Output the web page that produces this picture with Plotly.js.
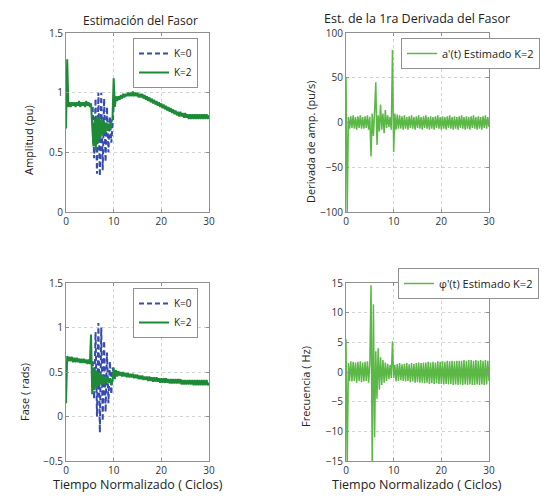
<!DOCTYPE html>
<html>
<head>
<meta charset="utf-8">
<script src="https://cdn.plot.ly/plotly-3.0.1.min.js"></script>
<style>html,body{margin:0;padding:0;background:#fff;}#chart{width:542px;height:499px;}</style>
</head>
<body>
<div id="chart"></div>
<script>
// Sample spacing of the stored series (normalized cycles)
const STEP = 0.25;

// Amplitude, K=2 (x = 0 .. 30, step 0.25)
const ampK2 = [
  0.70, 1.28, 0.88, 0.92, 0.88, 0.92, 0.89, 0.92,
  0.88, 0.92, 0.89, 0.93, 0.88, 0.92, 0.89, 0.92,
  0.88, 0.93, 0.89, 0.92, 0.88, 0.91, 0.72, 0.55,
  0.78, 0.52, 0.80, 0.58, 0.80, 0.62, 0.78, 0.64,
  0.76, 0.66, 0.75, 0.68, 0.74, 0.69, 0.75, 0.78,
  1.12, 0.88, 0.97, 0.93, 0.97, 0.94, 0.98, 0.95,
  0.99, 0.96, 0.99, 0.97, 1.00, 0.97, 1.00, 0.97,
  1.01, 0.97, 1.00, 0.97, 1.00, 0.96, 0.99, 0.96,
  0.99, 0.95, 0.98, 0.94, 0.97, 0.93, 0.96, 0.92,
  0.95, 0.91, 0.94, 0.90, 0.93, 0.89, 0.92, 0.88,
  0.91, 0.87, 0.90, 0.86, 0.89, 0.85, 0.88, 0.84,
  0.87, 0.83, 0.86, 0.82, 0.85, 0.81, 0.84, 0.80,
  0.84, 0.80, 0.83, 0.79, 0.83, 0.79, 0.82, 0.78,
  0.82, 0.78, 0.82, 0.78, 0.82, 0.78, 0.82, 0.78,
  0.82, 0.78, 0.82, 0.78, 0.82, 0.78, 0.82, 0.78,
  0.81
];

// K=0 estimates (visible part, during the transient)
const k0Time = [5.6, 5.9, 6.2, 6.5, 6.8, 7.1, 7.4, 7.7, 8.0, 8.3, 8.6, 8.9, 9.2, 9.5, 9.8, 10.1];
const ampK0  = [0.88, 0.45, 0.95, 0.32, 1.00, 0.30, 1.00, 0.35, 0.95, 0.42, 0.88, 0.50, 0.80, 0.58, 0.75, 0.95];
const phaseK0 = [0.62, 0.20, 0.95, 0.00, 1.05, -0.18, 1.00, -0.05, 0.85, 0.05, 0.72, 0.15, 0.62, 0.25, 0.55, 0.45];

// Phase, K=2
const phaseK2 = [
  0.15, 0.68, 0.62, 0.67, 0.62, 0.67, 0.61, 0.66,
  0.61, 0.66, 0.61, 0.65, 0.60, 0.65, 0.60, 0.65,
  0.60, 0.64, 0.59, 0.64, 0.59, 0.92, 0.25, 0.55,
  0.30, 0.52, 0.32, 0.50, 0.34, 0.48, 0.36, 0.46,
  0.36, 0.45, 0.38, 0.44, 0.38, 0.43, 0.35, 0.40,
  0.55, 0.42, 0.52, 0.45, 0.51, 0.46, 0.50, 0.45,
  0.50, 0.45, 0.49, 0.44, 0.49, 0.44, 0.48, 0.44,
  0.48, 0.43, 0.47, 0.43, 0.47, 0.42, 0.46, 0.42,
  0.46, 0.41, 0.45, 0.41, 0.45, 0.40, 0.45, 0.40,
  0.44, 0.39, 0.44, 0.39, 0.44, 0.39, 0.43, 0.38,
  0.43, 0.38, 0.43, 0.38, 0.43, 0.38, 0.42, 0.37,
  0.42, 0.37, 0.42, 0.37, 0.42, 0.37, 0.42, 0.37,
  0.42, 0.36, 0.41, 0.36, 0.41, 0.36, 0.41, 0.36,
  0.41, 0.36, 0.41, 0.35, 0.41, 0.35, 0.41, 0.35,
  0.41, 0.35, 0.41, 0.35, 0.41, 0.35, 0.41, 0.35,
  0.38
];

// a'(t), K=2 (pu/s)
const ampDeriv = [
  50, -100, 6, -7, 7, -6, 8, -7,
  6, -8, 7, -6, 8, -7, 6, -7,
  7, -6, 8, -8, 6, -38, 10, -15,
  12, 45, -25, 8, -10, 20, -8, 10,
  -12, 14, -6, 8, -5, 6, -8, 81,
  -33, 10, -8, 9, -7, 8, -7, 7,
  -8, 8, -7, 6, -8, 7, -6, 8,
  -7, 6, -8, 7, -6, 8, -7, 6,
  -8, 7, -6, 8, -7, 6, -8, 7,
  -7, 6, -8, 7, -6, 8, -7, 6,
  -8, 7, -7, 6, -8, 7, -6, 8,
  -7, 6, -8, 7, -7, 6, -8, 7,
  -6, 8, -7, 6, -8, 7, -7, 6,
  -8, 7, -6, 8, -7, 6, -8, 7,
  -7, 6, -8, 7, -6, 8, -7, 6,
  -5
];

// phi'(t), K=2 (Hz)
const freqDev = [
  5.5, -16, 1.5, -1.5, 1.8, -1.6, 1.7, -1.5,
  1.6, -1.8, 1.7, -1.5, 1.8, -1.7, 1.6, -1.6,
  1.7, -1.5, 1.8, -1.8, 1.5, 14.6, -16, 11.4,
  -11, 3.5, -4.5, 4.0, -3.0, 2.5, -2.2, 2.0,
  -1.8, 1.6, -1.5, 1.4, -1.2, 1.2, -1.0, 5.2,
  -1.0, 1.2, -1.6, 1.4, -1.5, 1.5, -1.4, 1.3,
  -1.5, 1.4, -1.6, 1.5, -1.5, 1.3, -1.7, 1.5,
  -1.6, 1.4, -1.8, 1.5, -1.7, 1.6, -1.8, 1.5,
  -1.8, 1.6, -1.9, 1.6, -1.8, 1.7, -2.0, 1.6,
  -1.9, 1.7, -2.0, 1.6, -1.9, 1.8, -2.0, 1.7,
  -2.0, 1.8, -2.1, 1.7, -2.0, 1.9, -2.1, 1.8,
  -2.0, 1.9, -2.2, 1.8, -2.1, 1.9, -2.2, 1.9,
  -2.1, 1.9, -2.2, 2.0, -2.1, 1.9, -2.2, 2.0,
  -2.1, 2.0, -2.2, 1.9, -2.2, 2.0, -2.1, 1.9,
  -2.2, 2.0, -2.1, 1.9, -2.2, 2.0, -2.1, 1.9,
  -1.5
];

const xTicks = [0, 10, 20, 30];
const ampTicks = [0, 0.5, 1, 1.5];
const derivTicks = [-100, -50, 0, 50, 100];
const phaseTicks = [-0.5, 0, 0.5, 1, 1.5];
const freqTicks = [-15, -10, -5, 0, 5, 10, 15];

const timeOf = arr => arr.map((_, i) => +(i * STEP).toFixed(2));

const DARK_GREEN = 'rgb(30,138,55)';
const LIGHT_GREEN = 'rgb(92,184,70)';
const BLUE = 'rgb(55,75,175)';
const FONT = 'Open Sans, Noto Sans, sans-serif';
const TXT = '#222';

const traces = [
  {x: k0Time, y: ampK0, mode: 'lines', name: 'K=0', line: {color: BLUE, width: 2, dash: '5px,3px'}, xaxis: 'x', yaxis: 'y', legend: 'legend'},
  {x: timeOf(ampK2), y: ampK2, mode: 'lines', name: 'K=2', line: {color: DARK_GREEN, width: 2}, xaxis: 'x', yaxis: 'y', legend: 'legend'},
  {x: timeOf(ampDeriv), y: ampDeriv, mode: 'lines', name: "a'(t) Estimado K=2", line: {color: LIGHT_GREEN, width: 1.5}, xaxis: 'x2', yaxis: 'y2', legend: 'legend2'},
  {x: k0Time, y: phaseK0, mode: 'lines', name: 'K=0', line: {color: BLUE, width: 2, dash: '5px,3px'}, xaxis: 'x3', yaxis: 'y3', legend: 'legend3'},
  {x: timeOf(phaseK2), y: phaseK2, mode: 'lines', name: 'K=2', line: {color: DARK_GREEN, width: 2}, xaxis: 'x3', yaxis: 'y3', legend: 'legend3'},
  {x: timeOf(freqDev), y: freqDev, mode: 'lines', name: "φ'(t) Estimado K=2", line: {color: LIGHT_GREEN, width: 1.5}, xaxis: 'x4', yaxis: 'y4', legend: 'legend4'}
];

const W = 542, H = 499;
const colL = [66 / W, 209 / W], colR = [346 / W, 489 / W];
const rowT = [1 - 212 / H, 1 - 33 / H], rowB = [1 - 461 / H, 1 - 283 / H];

function xax(domain, anchor) {
  return {
    domain: domain, anchor: anchor, range: [0, 30], tickvals: xTicks,
    showgrid: true, gridcolor: '#d2d2d2', griddash: 'dot', zeroline: false,
    showline: true, linecolor: '#909090', linewidth: 1, mirror: 'ticks',
    ticks: 'inside', ticklen: 3, tickcolor: '#909090',
    tickfont: {family: FONT, size: 10, color: '#333'}, fixedrange: true
  };
}
function yax(domain, anchor, range, ticks) {
  return {
    domain: domain, anchor: anchor, range: range, tickvals: ticks,
    showgrid: true, gridcolor: '#d2d2d2', griddash: 'dot', zeroline: false,
    showline: true, linecolor: '#909090', linewidth: 1, mirror: 'ticks',
    ticks: 'inside', ticklen: 3, tickcolor: '#909090',
    tickfont: {family: FONT, size: 10, color: '#333'}, fixedrange: true
  };
}
const legendStyle = (x, y, size) => ({
  x: x, y: y, xanchor: 'left', yanchor: 'top', bgcolor: '#fff',
  bordercolor: '#909090', borderwidth: 1, font: {family: FONT, size: size, color: TXT},
  tracegroupgap: 0, itemwidth: 30
});

const px = v => v / W, py = v => 1 - v / H;
const ann = (text, x, y, size, angle) => ({
  text: text, x: px(x), y: py(y), xref: 'paper', yref: 'paper', xanchor: 'center', yanchor: 'middle',
  showarrow: false, textangle: angle || 0, font: {family: FONT, size: size, color: TXT}
});

const layout = {
  width: W, height: H, margin: {l: 0, r: 0, t: 0, b: 0},
  paper_bgcolor: '#fff', plot_bgcolor: '#fff',
  xaxis: xax(colL, 'y'),
  yaxis: yax(rowT, 'x', [0, 1.5], ampTicks),
  xaxis2: xax(colR, 'y2'),
  yaxis2: yax(rowT, 'x2', [-100, 100], derivTicks),
  xaxis3: xax(colL, 'y3'),
  yaxis3: yax(rowB, 'x3', [-0.5, 1.5], phaseTicks),
  xaxis4: xax(colR, 'y4'),
  yaxis4: yax(rowB, 'x4', [-15, 15], freqTicks),
  legend: legendStyle(133 / W, 1 - 38 / H, 10),
  legend2: legendStyle(401 / W, 1 - 38 / H, 11),
  legend3: legendStyle(133 / W, 1 - 288 / H, 10),
  legend4: legendStyle(398 / W, 1 - 268 / H, 11),
  annotations: [
    ann('Estimación del Fasor', 141, 20, 12),
    ann('Est. de la 1ra Derivada del Fasor', 416.5, 18, 12.5),
    ann('Amplitud (pu)', 28, 140, 11, -90),
    ann('Derivada de amp. (pu/s)', 310, 142, 11, -90),
    ann('Fase ( rads)', 24, 392, 11, -90),
    ann('Frecuencia ( Hz)', 305, 387, 11, -90),
    ann('Tiempo Normalizado ( Ciclos)', 137.5, 484, 12.5),
    ann('Tiempo Normalizado ( Ciclos)', 417.5, 484, 12.5)
  ],
  showlegend: true
};

Plotly.newPlot('chart', traces, layout, {displayModeBar: false, staticPlot: true});
</script>
</body>
</html>
